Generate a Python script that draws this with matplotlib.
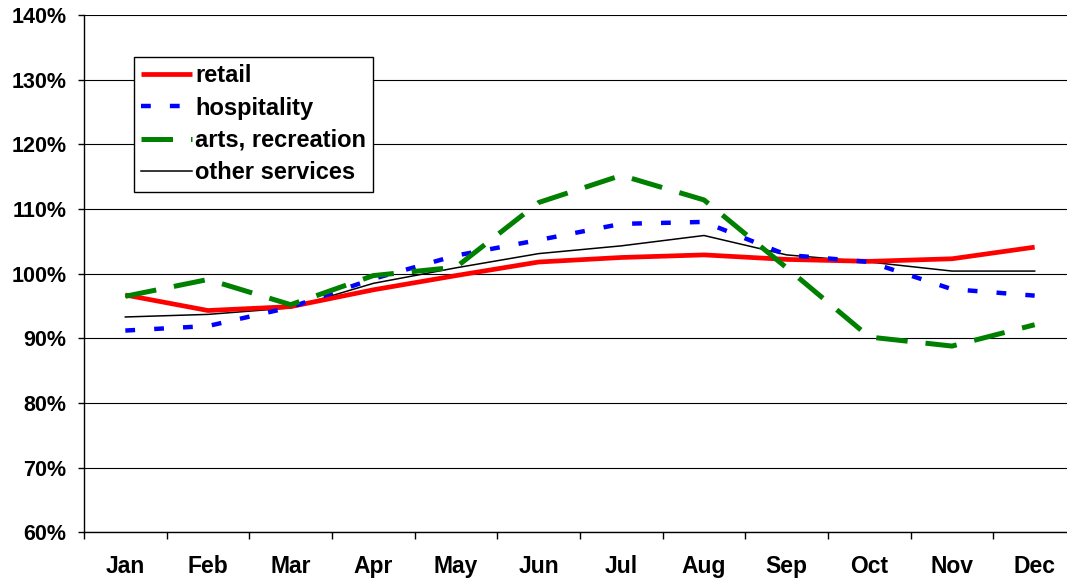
import matplotlib
matplotlib.use("Agg")
import matplotlib.pyplot as plt
from matplotlib.ticker import FixedLocator, NullFormatter

months = ["Jan", "Feb", "Mar", "Apr", "May", "Jun", "Jul", "Aug", "Sep", "Oct", "Nov", "Dec"]
retail = [96.7, 94.3, 94.9, 97.5, 99.7, 101.8, 102.5, 102.9, 102.2, 101.9, 102.3, 104.1]
hospitality = [91.2, 91.9, 94.8, 99.2, 102.8, 105.2, 107.7, 108.0, 102.9, 101.8, 97.6, 96.6]
arts = [96.5, 99.1, 95.2, 99.7, 101.0, 111.0, 115.2, 111.4, 100.9, 90.2, 88.8, 92.1]
other = [93.3, 93.7, 94.7, 98.5, 100.9, 103.1, 104.3, 105.9, 102.9, 101.8, 100.4, 100.4]
yticks = [60, 70, 80, 90, 100, 110, 120, 130, 140]

plt.rcParams['font.family'] = ['Liberation Sans', 'DejaVu Sans']

W, H = 1067, 579
fig = plt.figure(figsize=(W / 100, H / 100), dpi=100)
left, right, top, bottom = 84, 1076, 15, 532.3
ax = fig.add_axes([left / W, 1 - bottom / H, (right - left) / W, (bottom - top) / H])

x = list(range(len(months)))
ax.plot(x, retail, color='#FF0000', lw=3.4, label='retail', solid_capstyle='butt', zorder=3)
ax.plot(x, hospitality, color='#0000FF', lw=3.2, dashes=(2.2, 4.3), label='hospitality', zorder=4)
ax.plot(x, arts, color='#008000', lw=3.6, dashes=(6.3, 3.6), label='arts, recreation', zorder=5)
ax.plot(x, other, color='black', lw=1.1, label='other services', zorder=2)

ax.set_xlim(-0.5, 11.5)
ax.set_ylim(60, 140)
ax.set_yticks(yticks)
ax.set_yticklabels([f"{v}%" for v in yticks], fontsize=15.5, fontweight='bold')
ax.set_xticks(x)
ax.set_xticklabels(months, fontsize=16.5, fontweight='bold')
ax.tick_params(axis='x', which='major', length=0, pad=16.5)
ax.xaxis.set_minor_locator(FixedLocator([i + 0.5 for i in range(-1, 12)]))
ax.xaxis.set_minor_formatter(NullFormatter())
ax.tick_params(axis='x', which='minor', length=5, width=1, direction='out')
ax.tick_params(axis='y', length=4.5, width=1, direction='out', pad=8)

ax.yaxis.grid(True, color='black', lw=0.8)
ax.set_axisbelow(True)
for s in ['top', 'right']:
    ax.spines[s].set_visible(False)
for s in ['left', 'bottom']:
    ax.spines[s].set_linewidth(1.0)
    ax.spines[s].set_color('black')

leg = ax.legend(loc='upper left', bbox_to_anchor=(134 / W, 1 - 57 / H), bbox_transform=fig.transFigure,
                prop={'weight': 'bold', 'size': 17}, frameon=True, fancybox=False,
                edgecolor='black', framealpha=1, handlelength=2.15, handletextpad=0.15,
                labelspacing=0.4, borderpad=0.3, borderaxespad=0)
leg.get_frame().set_linewidth(1.0)

fig.savefig('out.png', dpi=100)
